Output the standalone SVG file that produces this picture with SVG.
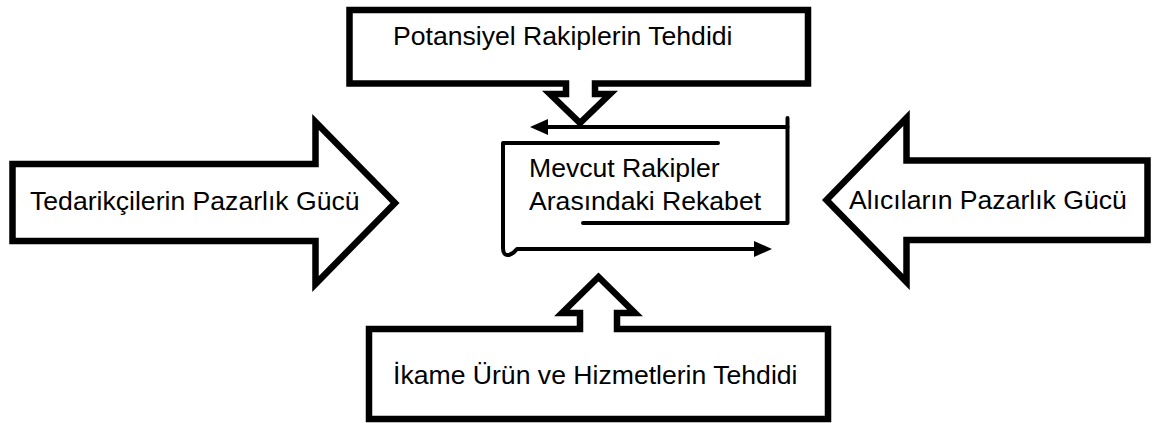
<svg xmlns="http://www.w3.org/2000/svg" width="1157" height="423" viewBox="0 0 1157 423">
  <style>
    .shape { fill: #ffffff; stroke: #000000; stroke-width: 6.5; stroke-linejoin: miter; }
    .label { font-family: "Liberation Sans", Arial, sans-serif; font-size: 26.6px; fill: #000000; }
    .line { fill: none; stroke: #000000; stroke-width: 4; stroke-linecap: round; stroke-linejoin: round; }
  </style>
  <defs>
    <marker id="head" viewBox="0 0 18 16" refX="1" refY="8" markerWidth="18" markerHeight="16" markerUnits="userSpaceOnUse" orient="auto">
      <path d="M0,0 L18,8 L0,16 z" fill="#000000"/>
    </marker>
  </defs>
  <rect width="1157" height="423" fill="#ffffff"/>

  <!-- Potential entrants: box with a downward callout -->
  <g id="node-potential">
    <path class="shape" d="M349.5,10 H808 V83.5 H595 V94 H610 L580,123 L550,94 H566 V83.5 H349.5 Z"/>
    <text class="label" x="393" y="45">Potansiyel Rakiplerin Tehdidi</text>
  </g>

  <!-- Supplier power: right-pointing block arrow -->
  <g id="node-suppliers">
    <path class="shape" d="M12.5,164 H315.5 V122 L395,203 L315.5,284 V241 H12.5 Z"/>
    <text class="label" x="30" y="210">Tedarikçilerin Pazarlık Gücü</text>
  </g>

  <!-- Buyer power: left-pointing block arrow -->
  <g id="node-buyers">
    <path class="shape" d="M1147.5,160.5 H906.5 V118 L826.5,200 L906.5,282 V240 H1147.5 Z"/>
    <text class="label" x="849" y="209">Alıcıların Pazarlık Gücü</text>
  </g>

  <!-- Substitutes: box with an upward callout -->
  <g id="node-substitutes">
    <path class="shape" d="M369,329 H580 V313 H562 L598.5,277 L635,313 H617 V329 H828 V419 H369 Z"/>
    <text class="label" x="393" y="384">İkame Ürün ve Hizmetlerin Tehdidi</text>
  </g>

  <!-- Industry rivalry: text in the middle -->
  <g id="node-rivalry">
    <text class="label" x="529" y="177">Mevcut Rakipler</text>
    <text class="label" x="529" y="210">Arasındaki Rekabet</text>
  </g>

  <!-- Open frame and circulating arrows around the rivalry label -->
  <g id="connectors">
    <path class="line" d="M583,223 H787.5 V118"/>
    <path class="line" d="M787.5,127 H547" marker-end="url(#head)"/>
    <path class="line" d="M718,143 H503 V248 Q503,256 509,255 Q513,254 517,249 H755" marker-end="url(#head)"/>
  </g>
</svg>
